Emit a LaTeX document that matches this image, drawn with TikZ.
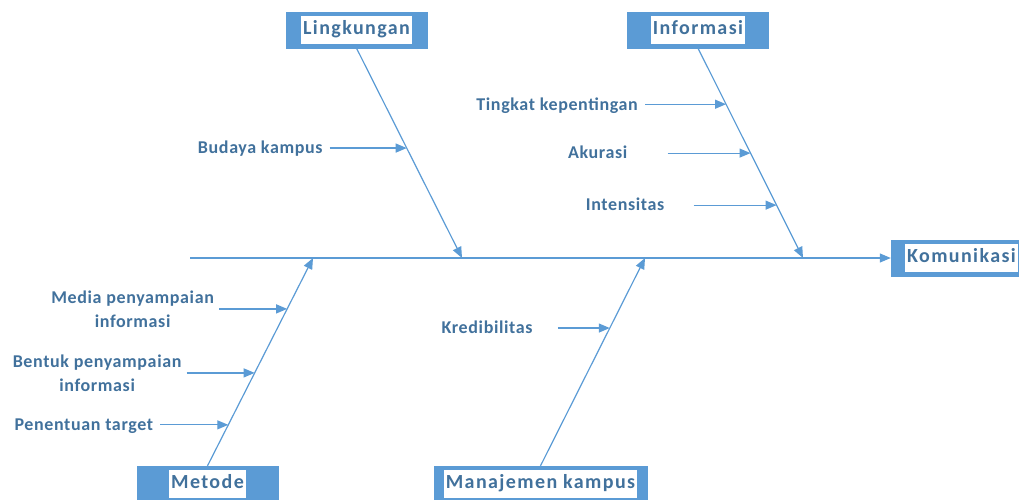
\documentclass[tikz,border=0pt]{standalone}
\usepackage{fontspec}
\setmainfont{Carlito}
\newfontfamily\catfont[LetterSpace=7]{Carlito}
\newfontfamily\causefont[LetterSpace=3.5]{Carlito}
\usetikzlibrary{arrows.meta,positioning}
\definecolor{boxblue}{HTML}{5B9BD5}
\definecolor{inkblue}{HTML}{41719C}
\setlength{\fboxsep}{2pt}

\begin{document}
\begin{tikzpicture}
        [x=1pt, y=-1pt,
         line/.style={draw=boxblue, line width=1.2pt},
         arr/.style={line, -{Triangle[length=11pt,width=9pt]}},
         cat/.style={fill=boxblue, draw=boxblue, minimum width=141pt, minimum height=36pt, inner sep=0pt,
                     font=\catfont\bfseries\fontsize{20}{24}\selectfont, text=inkblue},
         cause/.style={font=\causefont\bfseries\fontsize{18}{24}\selectfont, text=inkblue, align=center, inner sep=0pt},
         oneline/.style={anchor=base east, yshift=-5.8pt}]
        \clip (0,0) rectangle (1019,500);
        % categories
        \path node (lingkungan) at (356.5,30) [cat] {\colorbox{white}{\strut Lingkungan}}
              node (informasi) at (698,30) [cat] {\colorbox{white}{\strut Informasi}}
              node (komunikasi) at (961.5,258) [cat] {\colorbox{white}{\strut Komunikasi}}
              node (metode) at (207.5,484) [cat] {\colorbox{white}{\strut Metode}}
              node (manajemen) at (540.5,484) [cat, minimum width=213pt] {\colorbox{white}{\strut Manajemen kampus}};
        % spine
        \coordinate (tail) at (190,258);
        \coordinate (s1) at (462,258);
        \coordinate (s2) at (803,258);
        \coordinate (s3) at (313,258);
        \coordinate (s4) at (645,258);
        \draw[arr] (tail) -- (komunikasi);
        % bones
        \draw[arr] (lingkungan.south) -- coordinate[pos=0.476] (budaya) (s1);
        \draw[arr] (informasi.south) -- coordinate[pos=0.267] (tingkat)
                                        coordinate[pos=0.5] (akurasi)
                                        coordinate[pos=0.748] (intensitas) (s2);
        \draw[arr] (metode.north) -- coordinate[pos=0.197] (target)
                                     coordinate[pos=0.447] (bentuk)
                                     coordinate[pos=0.755] (media) (s3);
        \draw[arr] (manajemen.north) -- coordinate[pos=0.663] (kredibel) (s4);
        % arrow tails
        \coordinate[left=77pt of budaya] (budayatail);
        \coordinate[left=81pt of tingkat] (tingkattail);
        \coordinate[left=83pt of akurasi] (akurasitail);
        \coordinate[left=83pt of intensitas] (intensitastail);
        \coordinate[left=52pt of kredibel] (kredibeltail);
        \coordinate[left=68pt of media] (mediatail);
        \coordinate[left=68pt of bentuk] (bentuktail);
        \coordinate[left=68pt of target] (targettail);
        % causes
        \node (budayatxt) [cause, left=7pt of budayatail, oneline] {Budaya kampus};
        \node (tingkattxt) [cause, left=7pt of tingkattail, oneline] {Tingkat kepentingan};
        \node (akurasitxt) [cause, left=40pt of akurasitail, oneline] {Akurasi};
        \node (intensitastxt) [cause, left=29pt of intensitastail, oneline] {Intensitas};
        \node (kredibeltxt) [cause, left=25pt of kredibeltail, oneline] {Kredibilitas};
        \node (mediatxt) [cause, left=5pt of mediatail] {Media penyampaian\\informasi};
        \node (bentuktxt) [cause, left=5pt of bentuktail] {Bentuk penyampaian\\informasi};
        \node (targettxt) [cause, left=7pt of targettail, oneline] {Penentuan target};
        \foreach \a/\b in {budayatail/budaya, tingkattail/tingkat, akurasitail/akurasi,
                           intensitastail/intensitas, kredibeltail/kredibel, mediatail/media,
                           bentuktail/bentuk, targettail/target}
          \draw[arr] (\a) -- (\b);
      \end{tikzpicture}
\end{document}
